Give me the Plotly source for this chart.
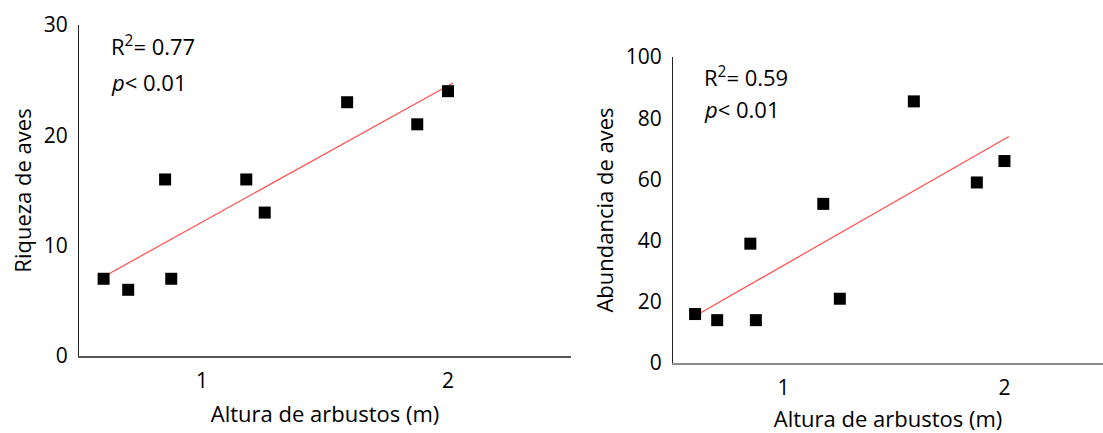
import numpy as np
import plotly.graph_objects as go

# Shrub height (m) at each site
altura = [0.60, 0.70, 0.85, 0.875, 1.18, 1.255, 1.59, 1.875, 2.0]
# Bird species richness per site
riqueza = [7, 6, 16, 7, 16, 13, 23, 21, 24]
# Bird abundance per site
abundancia = [16, 14, 39, 14, 52, 21, 85.5, 59, 66]

r2_riqueza = "0.77"
r2_abundancia = "0.59"
p_text = "0.01"

FONT = "Open Sans"
FS_TEXT = 22
FS_TICK = 21

def fit_line(x, y):
    m, b = np.polyfit(x, y, 1)
    xs = np.array([min(x) - 0.02, max(x) + 0.02])
    return xs, m * xs + b

fig = go.Figure()

marker = dict(symbol="square", size=12, color="black")
line = dict(color="#ff4d4d", width=1.2)

x1, y1 = fit_line(altura, riqueza)
fig.add_trace(go.Scatter(x=x1, y=y1, mode="lines", line=line, xaxis="x", yaxis="y",
                         hoverinfo="skip"))
fig.add_trace(go.Scatter(x=altura, y=riqueza, mode="markers", marker=marker,
                         xaxis="x", yaxis="y"))

x2, y2 = fit_line(altura, abundancia)
fig.add_trace(go.Scatter(x=x2, y=y2, mode="lines", line=line, xaxis="x2", yaxis="y2",
                         hoverinfo="skip"))
fig.add_trace(go.Scatter(x=altura, y=abundancia, mode="markers", marker=marker,
                         xaxis="x2", yaxis="y2"))

W, H = 1103, 433

def xd(a, b):
    return [a / W, b / W]

def yd(top, bottom):
    return [(H - bottom) / H, (H - top) / H]

tickfont = dict(family=FONT, size=FS_TICK, color="black")
titlefont = dict(family=FONT, size=FS_TEXT, color="black")

common_x = dict(showgrid=False, zeroline=False, showline=True, ticks="", automargin=False,
                tickfont=tickfont, ticklabelstandoff=5, tickvals=[1, 2])
common_y = dict(showgrid=False, zeroline=False, showline=True, ticks="", automargin=False,
                tickfont=tickfont, ticklabelstandoff=6, linecolor="#222", linewidth=1.2)

fig.update_layout(
    width=W, height=H,
    margin=dict(l=0, r=0, t=0, b=0),
    paper_bgcolor="white", plot_bgcolor="white",
    showlegend=False,
    xaxis=dict(domain=xd(79, 571), range=[0.5, 2.5], anchor="y",
               linecolor="#555", linewidth=1.5,
               title=dict(text="Altura de arbustos (m)", font=titlefont, standoff=14),
               **common_x),
    yaxis=dict(domain=yd(25, 356), range=[0, 30], anchor="x", tickvals=[0, 10, 20, 30],
               title=dict(text="Riqueza de aves", font=titlefont, standoff=5),
               **common_y),
    xaxis2=dict(domain=xd(673, 1103), range=[0.5, 2.446], anchor="y2",
                linecolor="#8c8c8c", linewidth=2,
                title=dict(text="Altura de arbustos (m)", font=titlefont, standoff=14),
                **common_x),
    yaxis2=dict(domain=yd(57, 363), range=[0, 100], anchor="x2",
                tickvals=[0, 20, 40, 60, 80, 100],
                title=dict(text="Abundancia de aves", font=titlefont, standoff=5),
                **common_y),
)

def stats(xref, yref, x, y_r2, y_p, r2):
    fig.add_annotation(xref=xref, yref=yref, x=x, y=y_r2, xanchor="left", yanchor="middle",
                       text=f"R<sup>2</sup>= {r2}", showarrow=False,
                       font=dict(family=FONT, size=FS_TEXT, color="black"))
    fig.add_annotation(xref=xref, yref=yref, x=x, y=y_p, xanchor="left", yanchor="middle",
                       text=f"<i>p</i>< {p_text}", showarrow=False,
                       font=dict(family=FONT, size=FS_TEXT, color="black"))

stats("x", "y", 0.62, 28.1, 24.8, r2_riqueza)
stats("x2", "y2", 0.63, 93.5, 83.0, r2_abundancia)

fig.write_html("out.html")
